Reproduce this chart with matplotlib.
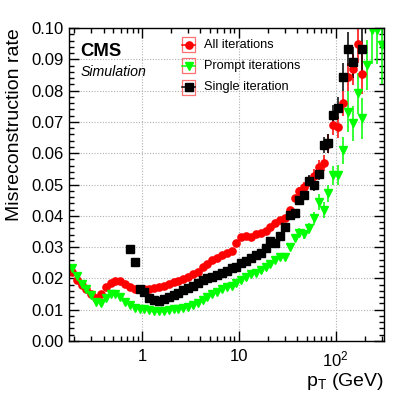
import numpy as np
import matplotlib
matplotlib.use('Agg')
import matplotlib.pyplot as plt
from matplotlib.patches import Rectangle
from matplotlib.lines import Line2D
from matplotlib.ticker import FixedLocator, FixedFormatter, MultipleLocator, NullFormatter

plt.rcParams['font.family'] = ['Liberation Sans', 'DejaVu Sans']
plt.rcParams['mathtext.fontset'] = 'custom'
plt.rcParams['mathtext.rm'] = 'Liberation Sans'
plt.rcParams['mathtext.it'] = 'Liberation Sans:italic'

nan = np.nan

# pT bin centres (GeV), 20 bins per decade
pt = [0.1884, 0.2113, 0.2371, 0.2661, 0.2985, 0.3350, 0.3758, 0.4217, 0.4732, 0.5309,
      0.5957, 0.6683, 0.7499, 0.8414, 0.9441, 1.059, 1.189, 1.334, 1.496, 1.679,
      1.884, 2.113, 2.371, 2.661, 2.985, 3.350, 3.758, 4.217, 4.732, 5.309,
      5.957, 6.683, 7.499, 8.414, 9.441, 10.59, 11.89, 13.34, 14.96, 16.79,
      18.84, 21.13, 23.71, 26.61, 29.85, 33.50, 37.58, 42.17, 47.32, 53.09,
      59.57, 66.83, 74.99, 84.14, 94.41, 105.9, 118.9, 133.4, 149.6, 167.9,
      188.4, 211.3, 237.1, 266.1, 298.5]

# All iterations
rate_all = [0.0222, 0.0195, 0.0180, 0.0166, 0.0150, 0.0138, 0.0150, 0.0172, 0.0186, 0.0192,
            0.0193, 0.0182, 0.0174, 0.0167, 0.0165, 0.0167, 0.0165, 0.0168, 0.0172, 0.0177,
            0.0182, 0.0187, 0.0193, 0.0199, 0.0206, 0.0214, 0.0222, 0.0236, 0.0247, 0.0258,
            0.0266, 0.0274, 0.0280, 0.0289, 0.0312, 0.0331, 0.0335, 0.0333, 0.0342, 0.0344,
            0.0352, 0.0365, 0.0376, 0.0387, 0.0392, 0.0419, 0.0456, 0.0480, 0.0493, 0.0510,
            0.0528, 0.0557, 0.0568, 0.0630, 0.0690, 0.0685, 0.0760, 0.0844, 0.0868, 0.0949,
            0.0853, nan, nan, nan, nan]
err_all = [0.0] * 44 + [0.0008, 0.0010, 0.0012, 0.0013, 0.0015, 0.0017, 0.0020, 0.0022, 0.0025,
                        0.0030, 0.0032, 0.0035, 0.0040, 0.0045, 0.0050, 0.0060, 0.0065,
                        0.0, 0.0, 0.0, 0.0]

# Prompt iterations
rate_prompt = [0.0232, 0.0208, 0.0181, 0.0165, 0.0147, 0.0126, 0.0122, 0.0136, 0.0149, 0.0149,
               0.0142, 0.0126, 0.0115, 0.0104, 0.0102, 0.0103, 0.0099, 0.0097, 0.0097, 0.0097,
               0.0099, 0.0101, 0.0101, 0.0104, 0.0108, 0.0114, 0.0122, 0.0132, 0.0142, 0.0150,
               0.0158, 0.0165, 0.0171, 0.0177, 0.0185, 0.0196, 0.0205, 0.0214, 0.0218, 0.0227,
               0.0237, 0.0246, 0.0259, 0.0269, 0.0269, 0.0301, 0.0328, 0.0346, 0.0342, 0.0360,
               0.0392, 0.0445, 0.0419, 0.0472, 0.0530, 0.0530, 0.0610, 0.0733, 0.0695, 0.0791,
               0.0711, 0.0882, 0.0995, 0.0994, 0.0946]
err_prompt = [0.0] * 44 + [0.0008, 0.0010, 0.0012, 0.0014, 0.0016, 0.0018, 0.0020, 0.0025, 0.0025,
                           0.0027, 0.0030, 0.0032, 0.0043, 0.0065, 0.0055, 0.0065, 0.0065,
                           0.0080, 0.0110, 0.0110, 0.0125]

# Single iteration
rate_single = [nan, nan, nan, nan, nan, nan, nan, nan, nan, nan,
               nan, nan, 0.0294, 0.0252, 0.0166, 0.0156, 0.0137, 0.0131, 0.0129, 0.0133,
               0.0140, 0.0147, 0.0154, 0.0162, 0.0168, 0.0176, 0.0184, 0.0195, 0.0200, 0.0205,
               0.0211, 0.0218, 0.0225, 0.0232, 0.0236, 0.0248, 0.0254, 0.0264, 0.0275, 0.0280,
               0.0296, 0.0320, 0.0314, 0.0335, 0.0363, 0.0403, 0.0410, 0.0450, 0.0468, 0.0512,
               0.0498, 0.0535, 0.0626, 0.0631, 0.0722, 0.0743, 0.0844, 0.0932, 0.0890, nan,
               0.0932, nan, nan, nan, nan]
err_single = [0.0] * 44 + [0.0008, 0.0010, 0.0012, 0.0013, 0.0015, 0.0017, 0.0020, 0.0022, 0.0025,
                           0.0030, 0.0032, 0.0035, 0.0045, 0.0055, 0.0050, 0.0, 0.0075,
                           0.0, 0.0, 0.0, 0.0]

labels = ['All iterations', 'Prompt iterations', 'Single iteration']
colors = ['#ff0000', '#00ff00', '#000000']
markers = ['o', 'v', 's']
msizes = [5.2, 6.0, 5.2]

W, H = 407, 393
fig = plt.figure(figsize=(W / 100, H / 100), dpi=100)
ax = fig.add_axes([69 / W, 1 - 341 / H, 315 / W, 313 / H])

series = [(rate_all, err_all), (rate_prompt, err_prompt), (rate_single, err_single)]
for (y, e), c, m, ms in zip(series, colors, markers, msizes):
    ax.errorbar(pt, y, yerr=e, fmt=m, color=c, ms=ms, mec=c, mfc=c,
                elinewidth=1.1, capsize=0, clip_on=True)

ax.set_xscale('log')
ax.set_xlim(0.176, 315)
ax.set_ylim(0, 0.1)

ax.xaxis.set_major_locator(FixedLocator([1, 10, 100]))
ax.xaxis.set_major_formatter(FixedFormatter(['1', '10', r'10$^{\mathregular{2}}$']))
ax.xaxis.set_minor_locator(FixedLocator(
    [v * 10.0 ** d for d in (-1, 0, 1, 2) for v in range(2, 10)]))
ax.xaxis.set_minor_formatter(NullFormatter())
ax.yaxis.set_major_locator(MultipleLocator(0.01))
ax.yaxis.set_minor_locator(MultipleLocator(0.002))
ax.yaxis.set_major_formatter(plt.FuncFormatter(lambda v, p: '%.2f' % v))

ax.tick_params(which='both', direction='in', top=True, right=True, width=1.0)
ax.tick_params(which='major', length=7, labelsize=12)
ax.tick_params(which='minor', length=3.5)
ax.tick_params(axis='x', which='major', pad=6)
ax.tick_params(axis='y', which='major', pad=4)
for s in ax.spines.values():
    s.set_linewidth(1.0)

ax.grid(True, which='major', color='#b0b0b0', linestyle=(0, (1, 1.5)), linewidth=0.8)
ax.set_axisbelow(True)

ax.set_ylabel('Misreconstruction rate', fontsize=14, loc='top', labelpad=6)
ax.set_xlabel(r'p$_{\mathregular{T}}$ (GeV)', fontsize=14, loc='right', labelpad=1)

ax.text(0.036, 0.953, 'CMS', transform=ax.transAxes, fontsize=13.3,
        fontweight='bold', va='top', ha='left')
ax.text(0.036, 0.883, 'Simulation', transform=ax.transAxes, fontsize=10.2,
        style='italic', va='top', ha='left')

# legend drawn by hand, ROOT style boxes
leg_y = [0.946, 0.879, 0.811]
for yy, lab, c, m, ms in zip(leg_y, labels, colors, markers, msizes):
    ax.add_patch(Rectangle((0.359, yy - 0.024), 0.041, 0.048, transform=ax.transAxes,
                           fill=False, edgecolor='#ff7070', linewidth=0.9, clip_on=False))
    ax.add_line(Line2D([0.359, 0.400], [yy, yy], transform=ax.transAxes, color=c,
                       linewidth=1.1, clip_on=False))
    ax.add_line(Line2D([0.3795], [yy], transform=ax.transAxes, color=c, marker=m,
                       ms=ms, linestyle='none', clip_on=False))
    ax.text(0.429, yy, lab, transform=ax.transAxes, fontsize=9.2, va='center', ha='left')

fig.savefig('out.png', dpi=100)
